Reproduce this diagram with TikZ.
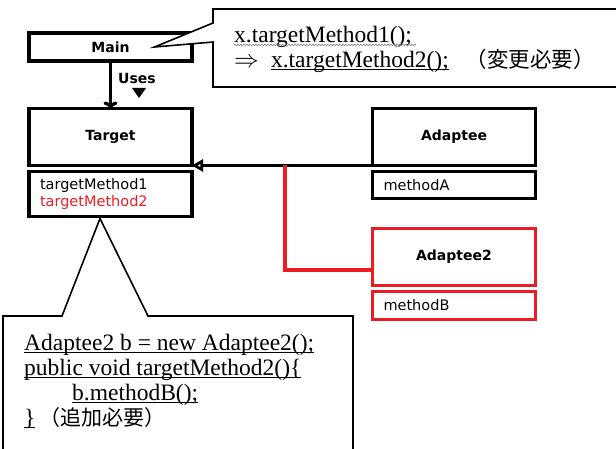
\documentclass[tikz,border=0pt]{standalone}
\usepackage{fontspec}
\setmainfont{Liberation Serif}
\setsansfont{DejaVu Sans}
\newfontfamily\jpfont{Noto Sans CJK JP}
\usetikzlibrary{calc, arrows.meta, decorations.pathmorphing}
\definecolor{umlred}{RGB}{237,28,36}
\newcommand\codeul[1]{\setbox0\hbox{#1}\rlap{\rule[-2.6pt]{\wd0}{1.1pt}}\box0}
\tikzset{
    classname/.style = {
        draw,
        line width     = 3.3pt,
        outer sep      = 0pt,
        minimum width  = 163pt,
        font           = \sffamily\bfseries\fontsize{14}{17}\selectfont,
    },
    classbody/.style = {
        draw,
        line width     = 3.3pt,
        outer sep      = 0pt,
        text width     = 141pt,
        inner xsep     = 11pt,
        align          = left,
        font           = \sffamily\fontsize{14.5}{17}\selectfont,
    },
    note/.style = {
        draw,
        fill       = white,
        line width = 1.6pt,
    },
    notetext/.style = {
        anchor     = north west,
        align      = left,
        inner sep  = 0pt,
        font       = \fontsize{23.5}{25}\selectfont,
    },
}

\begin{document}
\begin{tikzpicture}[x=1pt, y=-1pt]
        \useasboundingbox (0,0) rectangle (616,449);

        \node at (110.5, 47) (main) [classname, minimum height=28pt] {Main};
        \node at (110.5, 137) (target) [classname, minimum height=57pt] {Target};
        \node at (110.5, 194) (tbody) [classbody, minimum height=45pt] {targetMethod1\\\textcolor{umlred}{targetMethod2}};

        \node at (454, 137) (adaptee) [classname, minimum height=57pt] {Adaptee};
        \node at (454, 185) (abody) [classbody, minimum height=27pt] {methodA};

        \node at (454, 257) (adaptee2) [classname, draw=umlred, minimum height=56.5pt] {Adaptee2};
        \node at (454, 305.5) (a2body) [classbody, draw=umlred, minimum height=28pt] {methodB};

        \draw [line width=3.3pt, -{To[length=7pt, width=14pt]}] (main) -- (target);
        \node at (137, 78) (uses) [font=\sffamily\bfseries\fontsize{14}{17}\selectfont] {Uses};
        \fill (132, 88) -- (146, 88) -- (139, 98) -- cycle;

        \draw [line width=3.3pt, -{Triangle[open, length=11pt, width=12pt]}] (adaptee.south west) -- (target.south east);
        \coordinate (split) at (285, 165.5);
        \draw [umlred, line width=3.3pt] (split) |- ([yshift=-13pt]adaptee2.west);

        \draw [note] (213, 9) -- (625, 9) -- (625, 87) -- (213, 87) -- (213, 42) -- ([xshift=44pt]main.center) -- (213, 23) -- cycle;
        \node at (234, 26) (calltext) [notetext] {x.targetMethod1();\\$\Rightarrow$\hspace{12pt}\codeul{x.targetMethod2();}\hspace{17pt}{\jpfont\fontsize{21.5}{25}\selectfont （変更必要）}};
        \draw [gray, line width=0.6pt, decorate, decoration={snake, amplitude=0.8pt, segment length=3pt}] ([yshift=-19pt]calltext.north west) -- ++(182, 0);

        \draw [note] (3, 316) -- (62, 316) -- ([xshift=-10.5pt, yshift=-2pt]tbody.south) -- (148, 316) -- (353, 316) -- (353, 460) -- (3, 460) -- cycle;
        \node at (24, 334) (codetext) [notetext] {\codeul{Adaptee2 b = new Adaptee2();}\\\codeul{public void targetMethod2()\{}\\\hspace*{48pt}\codeul{b.methodB();}\\\codeul{\}}\,{\jpfont\fontsize{21}{25}\selectfont （追加必要）}};

    \end{tikzpicture}
\end{document}
